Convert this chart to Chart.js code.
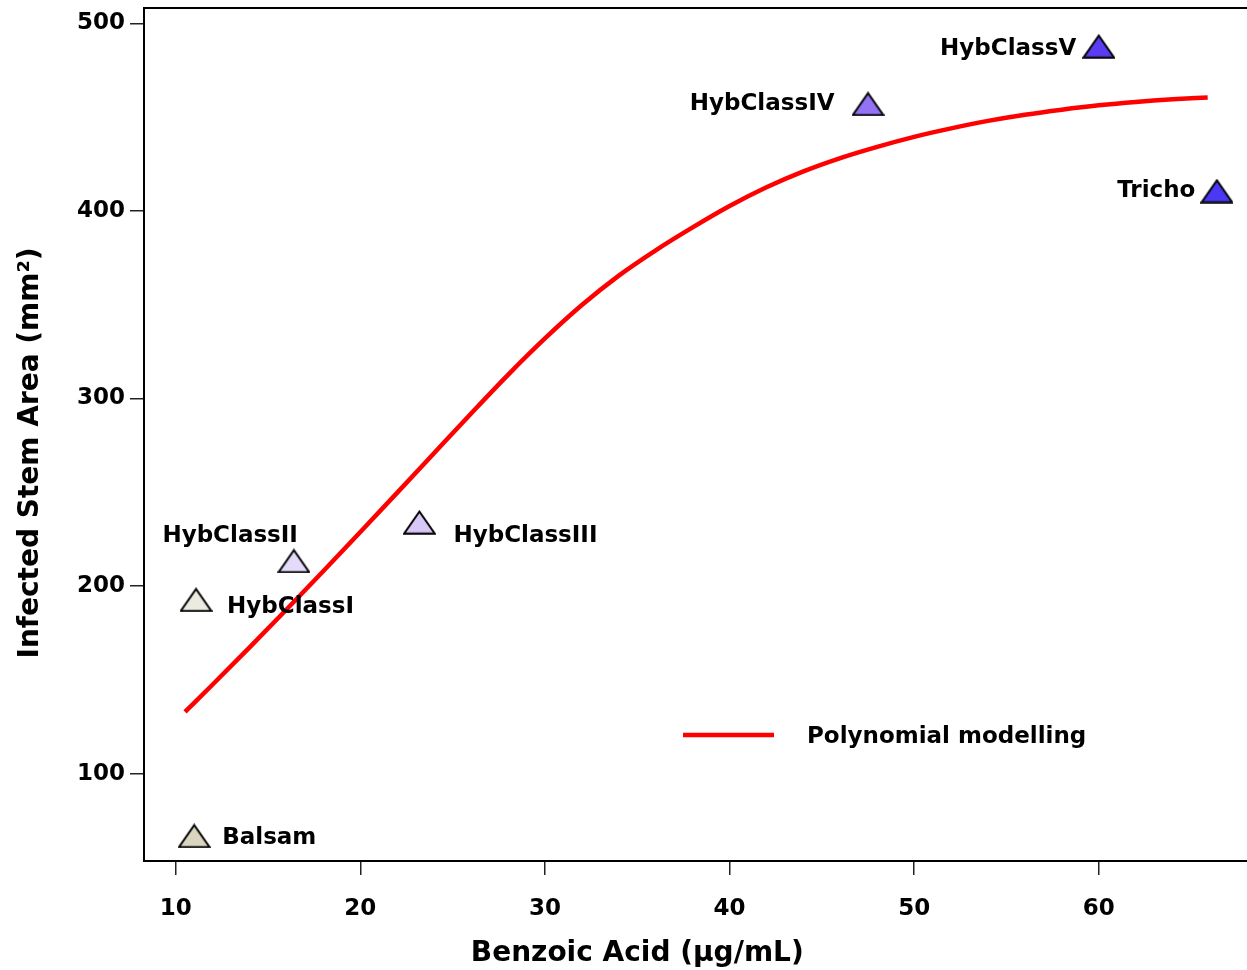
<!DOCTYPE html>
<html>
<head>
<meta charset="utf-8">
<script src="https://cdn.jsdelivr.net/npm/chart.js@4.4.1/dist/chart.umd.min.js"></script>
<style>
    html, body { margin: 0; padding: 0; background: #fff; }
    #wrap { width: 1247px; height: 970px; position: relative; }
</style>
</head>
<body>
<div id="wrap"><canvas id="chart"></canvas></div>
<script>
// --- data ---
const xTicks = [10, 20, 30, 40, 50, 60];
const yTicks = [100, 200, 300, 400, 500];

const sampleNames = ['Balsam', 'HybClassI', 'HybClassII', 'HybClassIII', 'HybClassIV', 'HybClassV', 'Tricho'];
const sampleAcid = [11.0, 11.1, 16.4, 23.2, 47.5, 60.0, 66.4];
const sampleArea = [66.8, 192.7, 213.4, 234.0, 457.1, 487.8, 410.6];

// fitted curve, read at regular steps along the red line
const curveAcid = [10.5, 12, 14, 16, 18, 20, 22, 24, 26, 28, 30, 32, 34, 36, 38, 40,
    42, 44, 46, 48, 50, 52, 54, 56, 58, 60, 62, 64, 65.9];
const curveArea = [132.9, 147.5, 167.3, 187.5, 208.0, 228.8, 249.8, 270.9, 292.0, 312.6, 332.0, 349.8, 365.5, 379.0, 391.2, 402.6,
    412.6, 421.1, 428.2, 434.2, 439.5, 444.0, 448.0, 451.3, 454.0, 456.3, 458.1, 459.5, 460.5];

// --- styling ---
const markerColors = ['#d9d5bf', '#ecebe1', '#e4dafa', '#d8c8f8', '#9472f4', '#5b3cf0', '#4a38f2'];
// text anchor relative to each marker (dy = vertical centre of capitals)
const labelPlacement = [
    { align: 'left', dx: 28, dy: 0 },
    { align: 'left', dx: 31, dy: 4.5 },
    { align: 'right', dx: 4, dy: -27.5 },
    { align: 'left', dx: 34, dy: 11 },
    { align: 'right', dx: -33.5, dy: -2 },
    { align: 'right', dx: -22.5, dy: 0.5 },
    { align: 'right', dx: -21.5, dy: -2.5 }
];
const FONT = '"DejaVu Sans", Verdana, sans-serif';

function triangleMarker(fill) {
    const w = 33, h = 25;
    const c = document.createElement('canvas');
    c.width = w; c.height = h;
    const g = c.getContext('2d');
    g.beginPath();
    g.moveTo(w / 2, 1.8);
    g.lineTo(w - 1.2, h - 1.2);
    g.lineTo(1.2, h - 1.2);
    g.closePath();
    g.fillStyle = fill;
    g.fill();
    g.lineWidth = 2;
    g.strokeStyle = '#000';
    g.stroke();
    return c;
}

const decorations = {
    id: 'decorations',
    afterDraw(chart) {
        const ctx = chart.ctx;
        const area = chart.chartArea;
        const xs = chart.scales.x;
        ctx.save();

        // top frame line
        ctx.strokeStyle = '#000';
        ctx.lineWidth = 2;
        ctx.beginPath();
        ctx.moveTo(area.left - 1, area.top);
        ctx.lineTo(area.right, area.top);
        ctx.stroke();

        // sample labels
        const meta = chart.getDatasetMeta(1);
        ctx.fillStyle = '#000';
        ctx.font = 'bold 23px ' + FONT;
        ctx.textBaseline = 'alphabetic';
        meta.data.forEach((pt, i) => {
            const p = labelPlacement[i];
            ctx.textAlign = p.align;
            ctx.fillText(sampleNames[i], pt.x + p.dx, pt.y + p.dy + 8.4);
        });

        // legend
        const ds = chart.data.datasets[0];
        ctx.strokeStyle = ds.borderColor;
        ctx.lineWidth = ds.borderWidth;
        ctx.beginPath();
        ctx.moveTo(683, 735);
        ctx.lineTo(774, 735);
        ctx.stroke();
        ctx.textAlign = 'left';
        ctx.fillText(ds.label, 807, 743.4);

        // axis titles
        ctx.font = 'bold 28px ' + FONT;
        ctx.textAlign = 'center';
        const midX = (xs.getPixelForValue(xTicks[0]) + xs.getPixelForValue(xTicks[xTicks.length - 1])) / 2;
        ctx.fillText('Benzoic Acid (µg/mL)', midX, 961);
        ctx.translate(38, 453);
        ctx.rotate(-Math.PI / 2);
        ctx.fillText('Infected Stem Area (mm²)', 0, 0);
        ctx.restore();
    }
};

const tickFont = { family: FONT, size: 23, weight: 'bold' };

new Chart(document.getElementById('chart'), {
    data: {
        datasets: [
            {
                type: 'line',
                label: 'Polynomial modelling',
                data: curveAcid.map((x, i) => ({ x, y: curveArea[i] })),
                borderColor: '#ff0000',
                borderWidth: 4.5,
                pointRadius: 0,
                cubicInterpolationMode: 'monotone',
                fill: false,
                order: 1
            },
            {
                type: 'scatter',
                label: 'Samples',
                data: sampleAcid.map((x, i) => ({ x, y: sampleArea[i] })),
                pointStyle: markerColors.map(triangleMarker),
                pointRadius: 12,
                order: 0
            }
        ]
    },
    options: {
        responsive: true,
        maintainAspectRatio: false,
        animation: false,
        layout: { autoPadding: false, padding: { top: 8, right: 0, bottom: 0, left: 0 } },
        plugins: { legend: { display: false }, tooltip: { enabled: false } },
        scales: {
            x: {
                type: 'linear',
                min: 8.28,
                max: 68.03,
                afterBuildTicks: s => { s.ticks = xTicks.map(v => ({ value: v })); },
                afterFit: s => {
                    s.height = 109;
                    s.paddingLeft = 0; s.paddingRight = 0; s.paddingTop = 0; s.paddingBottom = 0;
                },
                grid: { drawOnChartArea: false, drawTicks: true, tickLength: 14, color: '#222', lineWidth: 1.5 },
                border: { display: true, color: '#000', width: 2 },
                ticks: { padding: 20, color: '#000', font: tickFont, maxRotation: 0 }
            },
            y: {
                type: 'linear',
                min: 53.4,
                max: 508.2,
                afterBuildTicks: s => { s.ticks = yTicks.map(v => ({ value: v })); },
                afterFit: s => {
                    s.width = 144;
                    s.paddingLeft = 0; s.paddingRight = 0; s.paddingTop = 0; s.paddingBottom = 0;
                },
                grid: { drawOnChartArea: false, drawTicks: true, tickLength: 14, color: '#222', lineWidth: 1.5 },
                border: { display: true, color: '#000', width: 2 },
                ticks: { padding: 5, color: '#000', font: tickFont }
            }
        }
    },
    plugins: [decorations]
});
</script>
</body>
</html>
